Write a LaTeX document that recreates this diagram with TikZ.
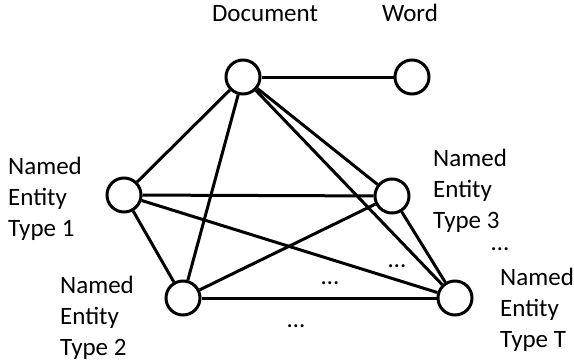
\documentclass[tikz,border=0pt]{standalone}
\usepackage{fontspec}
\setmainfont{Carlito}
\usetikzlibrary{arrows, positioning}

\begin{document}
\begin{tikzpicture}[x=1pt,y=-1pt,
  ent/.style={circle,draw,line width=3pt,minimum size=34pt,inner sep=0pt},
  lbl/.style={align=left,inner sep=0pt,anchor=north west,font=\fontsize{25}{31}\selectfont},
  ttl/.style={inner sep=0pt,anchor=base,font=\fontsize{25}{31}\selectfont},
  link/.style={line width=3pt}]
\useasboundingbox (0,0) rectangle (574,364);
%circles
\node[ent] (doc) at (243,77) {};
\node[ent] (word) at (412,77) {};
\node[ent] (ne1) at (124,195) {};
\node[ent] (ne3) at (392,196) {};
\node[ent] (ne2) at (183,298) {};
\node[ent] (net) at (455,298) {};
%labels
\node[ttl] (doclbl) at (265,21) {Document};
\node[ttl] (wordlbl) at (410,21) {Word};
\node[lbl] (ne1lbl) at (8,157) {Named\\Entity\\Type 1};
\node[lbl] (ne3lbl) at (433,149) {Named\\Entity\\Type 3};
\node[lbl] (ne2lbl) at (60,276) {Named\\Entity\\Type 2};
\node[lbl] (netlbl) at (500,268) {Named\\Entity\\Type T};
%dots
\node[ttl] (dotsa) at (500,250) {…};
\node[ttl] (dotsb) at (397,267) {…};
\node[ttl] (dotsc) at (330,284) {…};
\node[ttl] (dotsd) at (296,327) {…};
%edges from the document
\draw[link] (doc) -- (word);
\draw[link] (doc) -- (ne1);
\draw[link] (doc) -- (ne2);
\draw[link] (doc) -- (ne3);
\draw[link] (doc) -- (net);
%edges between the entity types
\draw[link] (ne1) -- (ne3);
\draw[link] (ne1) -- (net);
\draw[link] (ne1) -- (ne2);
\draw[link] (ne2) -- (ne3);
\draw[link] (ne2) -- (net);
\draw[link] (ne3) -- (net);
\end{tikzpicture}
\end{document}
